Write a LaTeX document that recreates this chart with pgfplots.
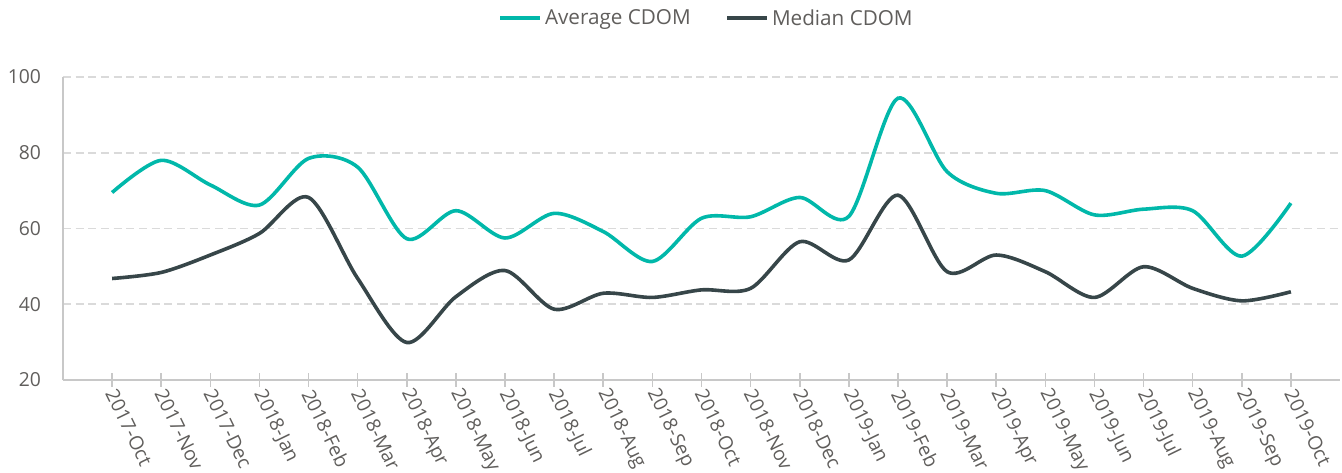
\documentclass[border=0pt]{standalone}
\usepackage{pgfplots}
\pgfplotsset{compat=1.18}
\usepackage{fontspec}
\setmainfont{Open Sans}
\definecolor{teal1}{HTML}{01B8AA}
\definecolor{dark1}{HTML}{374649}
\definecolor{txt}{HTML}{605E5C}
\definecolor{axl}{HTML}{C8C8C8}
\definecolor{grd}{HTML}{DADADA}
\begin{document}
\begin{tikzpicture}
\path[use as bounding box] (-47.25pt,-69pt) rectangle (959.25pt,285pt);
\begin{axis}[
  at={(0pt,0pt)}, anchor=south west,
  scale only axis,
  width=957.75pt, height=227.25pt,
  xmin=-1, xmax=25, ymin=20, ymax=100,
  xtick={0,...,24},
  xticklabels={2017-Oct,2017-Nov,2017-Dec,2018-Jan,2018-Feb,2018-Mar,2018-Apr,2018-May,2018-Jun,2018-Jul,2018-Aug,2018-Sep,2018-Oct,2018-Nov,2018-Dec,2019-Jan,2019-Feb,2019-Mar,2019-Apr,2019-May,2019-Jun,2019-Jul,2019-Aug,2019-Sep,2019-Oct},
  ytick={20,40,60,80,100},
  axis x line=bottom, axis y line=left,
  axis line style={-, draw=axl, line width=1.4pt},
  xtick align=center,
  x tick style={draw=axl, line width=1.2pt},
  major tick length=10pt,
  y tick style={draw=none},
  ymajorgrids,
  grid style={draw=grd, line width=1.4pt, dash pattern=on 6pt off 3.5pt},
  tick label style={font=\fontsize{14.5}{17}\selectfont, text=txt},
  /pgf/number format/assume math mode=true,
  yticklabel style={xshift=-8pt},
  xticklabel style={rotate=-64, anchor=west, yshift=-2pt, xshift=-1pt},
  legend columns=2,
  legend style={at={(0.5,1)}, anchor=center, yshift=44pt, xshift=4pt, draw=none,
    font=\fontsize{15.5}{18}\selectfont, text=txt,
    /tikz/every even column/.append style={column sep=24pt}},
  legend image code/.code={\draw[#1, line width=3pt] (-5pt,0pt) -- (25pt,0pt);},
  every axis plot/.append style={line width=2.7pt, smooth, tension=0.5, mark=none},
]
\addplot[teal1] coordinates {
(0,69.5)(1,78)(2,71.5)(3,66.2)(4,78.5)(5,76.2)(6,57.3)(7,64.7)(8,57.5)(9,64)(10,59.2)(11,51.3)(12,62.7)(13,63.1)(14,68.2)(15,63.2)(16,94.4)(17,75)(18,69.3)(19,70)(20,63.6)(21,65.1)(22,64.7)(23,52.7)(24,66.7)};
\addlegendentry{Average CDOM}
\addplot[dark1] coordinates {
(0,46.8)(1,48.4)(2,53)(3,58.7)(4,68.2)(5,46.8)(6,29.9)(7,42)(8,48.9)(9,38.7)(10,42.9)(11,41.8)(12,43.8)(13,44.2)(14,56.5)(15,51.7)(16,68.8)(17,48.6)(18,53)(19,48.6)(20,41.8)(21,49.9)(22,44.2)(23,40.9)(24,43.3)};
\addlegendentry{Median CDOM}
\end{axis}
\end{tikzpicture}
\end{document}
